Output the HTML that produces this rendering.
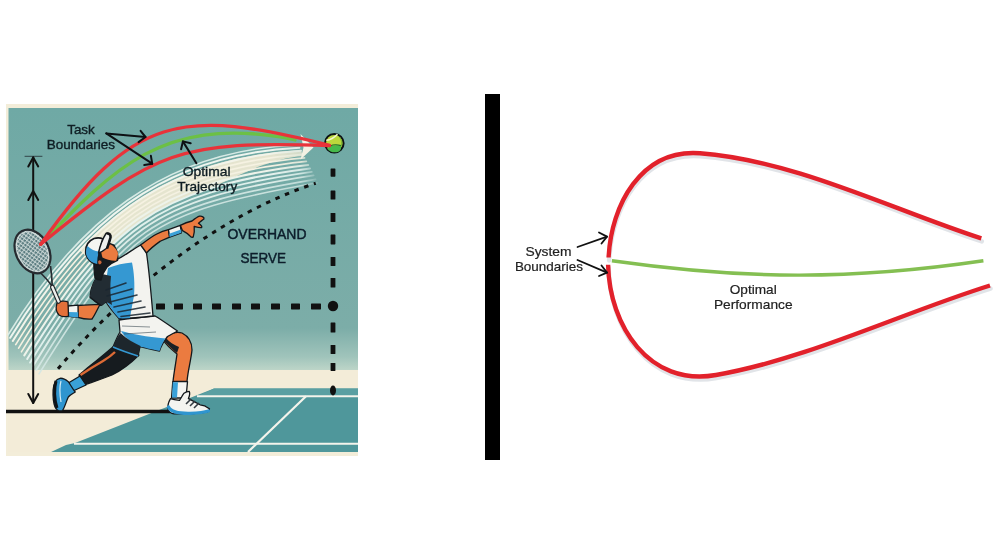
<!DOCTYPE html>
<html><head><meta charset="utf-8"><title>Task vs System Boundaries</title>
<style>
html,body{margin:0;padding:0;background:#fff;width:1000px;height:560px;overflow:hidden}
svg{display:block;will-change:transform}
text{font-family:"Liberation Sans",sans-serif}
</style></head>
<body>
<svg width="1000" height="560" viewBox="0 0 1000 560">
<defs>
<linearGradient id="sky" x1="0" y1="0" x2="0" y2="1">
<stop offset="0" stop-color="#6fa9a5"/>
<stop offset="0.84" stop-color="#7cada8"/>
<stop offset="0.95" stop-color="#a0c4bb"/>
<stop offset="1" stop-color="#bdd5c8"/>
</linearGradient>
<pattern id="strings" patternUnits="userSpaceOnUse" width="3.2" height="3.2" patternTransform="rotate(-27)">
<rect width="3.2" height="3.2" fill="#587a7e"/>
<path d="M0,0.6 H3.2 M0.6,0 V3.2" stroke="#d8e2e0" stroke-width="0.9"/>
</pattern>
<linearGradient id="fadeG" gradientUnits="userSpaceOnUse" x1="270" y1="0" x2="322" y2="0">
<stop offset="0" stop-color="#fff"/><stop offset="0.6" stop-color="#fff" stop-opacity="0.85"/><stop offset="1" stop-color="#fff" stop-opacity="0"/>
</linearGradient>
<mask id="fadeM" maskUnits="userSpaceOnUse" x="0" y="0" width="400" height="500"><rect x="0" y="0" width="400" height="500" fill="url(#fadeG)"/></mask>
</defs>

<!-- ================= LEFT ILLUSTRATION ================= -->
<g id="left">
<rect x="6" y="104" width="352" height="352" fill="#f3edd9"/>
<rect x="8.5" y="108" width="349.5" height="262" fill="url(#sky)"/>
<rect x="8.5" y="370" width="349.5" height="82" fill="#f3ecd8"/>
<!-- court -->
<polygon points="214,388.5 358,388.5 358,452 51,452 66,445 75,443" fill="#4f979b"/>
<polygon points="214,388.5 358,388.5 358,395 200,395" fill="#5a9fa2"/>
<g stroke="#f4f4ec" fill="none">
<path d="M197,396.3 L358,396.3" stroke-width="2"/>
<path d="M74,443.8 L358,443.8" stroke-width="2"/>
<path d="M306,396.3 L248,452" stroke-width="2.2"/>
</g>
<!-- ground line -->
<path d="M6,411.5 L170,411.5" stroke="#111" stroke-width="3.4"/>

<!-- swoosh streaks -->
<g id="swoosh" fill="none" stroke-linecap="round" mask="url(#fadeM)">
<path d="M79.1,249.8 L82.5,246.2 L86.0,242.6 L89.5,239.2 L93.0,235.7 L96.5,232.4 L100.1,229.1 L103.7,225.8 L107.4,222.7 L111.1,219.5 L114.8,216.5 L118.6,213.5 L122.4,210.6 L126.3,207.8 L130.1,205.0 L134.1,202.3 L138.1,199.6 L142.1,197.0 L146.2,194.5 L150.3,192.1 L154.4,189.7 L158.6,187.4 L162.9,185.1 L167.2,182.9 L171.6,180.8 L176.0,178.8 L180.5,176.8 L185.0,174.9 L189.6,173.0 L194.2,171.2 L198.9,169.5 L203.7,167.9 L208.5,166.3 L213.4,164.8 L218.3,163.4 L223.3,162.0 L228.4,160.7 L233.5,159.4 L238.7,158.3 L244.0,157.2 L249.3,156.2 L254.7,155.2 L260.2,154.3 L265.8,153.5 L271.4,152.7 L277.1,152.1 L282.8,151.5 L288.7,150.9 L294.6,150.5 L300.6,150.1 L303.6,155.9 L297.4,156.6 L291.4,157.5 L285.5,158.6 L279.8,159.9 L274.1,161.5 L268.6,163.2 L263.1,165.1 L257.7,167.1 L252.4,169.3 L247.2,171.5 L242.1,173.8 L237.0,176.1 L232.0,178.3 L227.1,180.6 L222.2,182.8 L217.4,184.9 L212.7,187.0 L208.1,188.9 L203.5,190.6 L199.0,192.2 L194.5,193.8 L190.1,195.5 L185.8,197.2 L181.6,199.0 L177.5,200.8 L173.4,202.6 L169.4,204.6 L165.5,206.5 L161.6,208.6 L157.8,210.7 L154.1,212.9 L150.4,215.1 L146.8,217.4 L143.2,219.7 L139.7,222.2 L136.3,224.6 L132.8,227.2 L129.4,229.8 L126.1,232.5 L122.8,235.3 L119.5,238.2 L116.3,241.1 L113.0,244.1 L109.9,247.2 L106.7,250.3 L103.5,253.6 L100.4,256.9 L97.3,260.3 L94.2,263.8 Z" fill="#efe9d2" stroke="none" opacity="0.92"/>
<path d="M8.0,335.0 C76.0,224.0 162.0,150.0 298.0,145.0" stroke="#dcede8" stroke-width="1.6" opacity="0.95"/>
<path d="M10.2,337.8 C79.8,224.4 160.8,154.6 299.4,147.7" stroke="#eef5ef" stroke-width="2.0" opacity="1"/>
<path d="M12.8,341.0 C84.1,224.9 159.4,159.8 301.0,150.8" stroke="#f3f4ea" stroke-width="2.0" opacity="1"/>
<path d="M15.7,344.6 C89.0,225.4 157.9,165.6 302.8,154.4" stroke="#f6f2e2" stroke-width="1.6" opacity="1"/>
<path d="M18.6,348.2 C93.8,226.0 156.4,171.4 304.6,157.9" stroke="#f6f2e2" stroke-width="1.6" opacity="1"/>
<path d="M21.4,351.8 C98.7,226.5 154.9,177.3 306.4,161.4" stroke="#f4f1e2" stroke-width="1.6" opacity="1"/>
<path d="M24.3,355.4 C103.5,227.1 153.3,183.2 308.2,164.9" stroke="#eef3ea" stroke-width="2.0" opacity="1"/>
<path d="M27.2,359.0 C108.4,227.6 151.8,189.0 310.0,168.4" stroke="#e6f2ee" stroke-width="2.0" opacity="1"/>
<path d="M30.1,362.6 C113.3,228.1 150.3,194.8 311.8,171.9" stroke="#dff0ec" stroke-width="1.9" opacity="1"/>
<path d="M33.0,366.2 C118.1,228.7 148.7,200.7 313.6,175.4" stroke="#e2efeb" stroke-width="1.9" opacity="0.95"/>
<path d="M36.2,370.2 C123.5,229.3 147.0,207.2 315.6,179.3" stroke="#d6e9e5" stroke-width="1.7" opacity="0.9"/>
<path d="M39.0,373.8 C128.4,229.8 145.5,213.1 317.4,182.8" stroke="#d3e7e3" stroke-width="1.6" opacity="0.9"/>
</g>
<!-- arrow head of swoosh -->
<polygon points="300.5,134 313.5,147.5 300.5,159.5 303.5,147.5" fill="#f3f1e3"/>

<!-- dotted diagonal -->
<path d="M58,368.8 C122.3,292.5 218.9,214.5 315.7,183.3" fill="none" stroke="#111" stroke-width="3" stroke-dasharray="4.5 5.8"/>
<!-- dashed verticals/horizontals -->
<rect x="156" y="303.4" width="9" height="6" rx="0.6" fill="#111"/>
<rect x="174" y="303.4" width="9" height="6" rx="0.6" fill="#111"/>
<rect x="193" y="303.4" width="9" height="6" rx="0.6" fill="#111"/>
<rect x="212" y="303.4" width="9" height="6" rx="0.6" fill="#111"/>
<rect x="232" y="303.4" width="9" height="6" rx="0.6" fill="#111"/>
<rect x="251" y="303.4" width="9" height="6" rx="0.6" fill="#111"/>
<rect x="271" y="303.4" width="9" height="6" rx="0.6" fill="#111"/>
<rect x="291" y="303.4" width="9" height="6" rx="0.6" fill="#111"/>
<rect x="311" y="303.4" width="10" height="6" rx="0.6" fill="#111"/>
<rect x="330.6" y="168.5" width="4.8" height="8.2" rx="0.6" fill="#111"/>
<rect x="330.6" y="190.4" width="4.8" height="9.1" rx="0.6" fill="#111"/>
<rect x="330.6" y="213" width="4.8" height="9" rx="0.6" fill="#111"/>
<rect x="330.6" y="234.4" width="4.8" height="10.0" rx="0.6" fill="#111"/>
<rect x="330.6" y="257" width="4.8" height="9" rx="0.6" fill="#111"/>
<rect x="330.6" y="278" width="4.8" height="9.5" rx="0.6" fill="#111"/>
<rect x="330.6" y="322.4" width="4.8" height="10.2" rx="0.6" fill="#111"/>
<rect x="330.6" y="345" width="4.8" height="9" rx="0.6" fill="#111"/>
<rect x="330.6" y="363" width="4.8" height="8" rx="0.6" fill="#111"/>

<circle cx="333" cy="306" r="5.2" fill="#111"/>
<ellipse cx="333" cy="390.5" rx="3" ry="5" fill="#111"/>


<!-- vertical measuring arrow -->
<g stroke="#111" stroke-width="2" fill="none" stroke-linecap="round" stroke-linejoin="round">
<path d="M33.2,157 L33.2,403"/>
<path d="M25,156.3 L42,156.3" stroke-width="0.9" stroke="#2a3a3e"/>
<path d="M28.3,166.5 L33.2,157.5 L38.2,166.5"/>
<path d="M28.3,200 L33.2,191 L38.2,200"/>
<path d="M28.3,394 L33.2,403 L38.2,394"/>
</g>

<!-- ============ PLAYER ============ -->
<g id="player" stroke="#14181c" stroke-width="1.3" stroke-linejoin="round">
<!-- back leg -->
<path d="M114,346 C107,352 99,359 91,365 C87,368 83,372 79,375 L84,385 C92,382 102,379 112,375 C122,370 131,363 139,355 Z" fill="#161b1f"/>
<path d="M80.5,375 C88,370 96,365 103,361 C108,358 112,355 115,352" fill="none" stroke="#dc6a35" stroke-width="2.4"/>
<!-- back sock -->
<path d="M68.3,383 L80,376 L86,385 L72,391.5 Z" fill="#3aa1d8"/>
<!-- back shoe -->
<path d="M60,378.3 C56,379 53.5,384 53.1,390 C52.8,397 53.5,403 55,407 C57,410.5 60,411.5 62.5,410.5 C64.5,408 66,402 68.3,397 C71,394 74,393 75.2,392 C72,388 70,384 68.3,381.7 C65,379 62.5,378 60,378.3 Z" fill="#2f95cf"/>
<path d="M56,381 C54,388 54,400 57,408" fill="none" stroke="#0f1418" stroke-width="3"/>
<path d="M61,381 C59,388 60,396 61,402" fill="none" stroke="#cfeaf5" stroke-width="1.2"/>
<!-- front leg -->
<path d="M163,340 C168,334 176,331 182,333 C188,336 192,342 192,350 C191,360 188,370 187,381.5 L173,381.5 C174,372 176,362 177,354 C172,350 167,346 163,340 Z" fill="#eb7b40"/>
<path d="M163,340 C168,345 173,350 177,353 L179,347 C174,345 169,342 166,338 Z" fill="#1a2025" stroke="none"/>
<!-- front sock -->
<path d="M172.8,381.6 L187.5,381.6 L186,398 L171.5,398 Z" fill="#f5f5f1"/>
<path d="M172.8,382.2 L178,382.2 L177,397.4 L172,397.4 Z" fill="#3aa1d8" stroke="none"/>
<!-- front shoe -->
<path d="M170.5,398.6 C168.5,402 167.5,406 168,409.3 C169,412 171,413.7 174,413.8 C185,414 198,413.3 207.1,412 C209.5,411 210,409 209,408.4 C206,406 203,405 200,404.8 C195,402 191,400 188.4,398.6 C189.5,396 190,393 189.3,391.4 C187,391.5 185,392.5 184,393.2 C182,396 180.5,399 179.5,400.4 C176,400 173,399.5 170.5,398.6 Z" fill="#f4f4f0"/>
<path d="M168.5,407 C171,412.5 180,413.5 190,413.3 C198,413 204,412.5 208.5,411" fill="none" stroke="#2f95cf" stroke-width="3.2" stroke-linecap="round"/>
<path d="M186,404 L191,399 M190,406 L195,401 M194,408 L199,403" stroke="#333a40" stroke-width="1.6"/>
<!-- shorts -->
<path d="M119,320 C131,318 143,317 155,316 C162,320 170,326 177.5,331 C174,333 170,335 167.5,336.5 C164,341 161,346 159.5,351 C150,349 144,347.5 140,346.5 L138,356 C130,353.5 120,350 113,347 C115,342 117,337 120,332 Z" fill="#f3f3ef"/>
<path d="M121,331 C132,334 146,337 165.5,338.5 C163,342 161,346 159.5,351 C150,349 144,347.5 140,346.5 C132,343 125,338 121,331 Z" fill="#3598d2" stroke="none"/>
<path d="M113,347 C115,342 117,337 120.5,333 C127,339 134,343 140.5,346 L138,356 C130,353.5 120,350 113,347 Z" fill="#1d262c" stroke="none"/>
<path d="M113,347 C120,350 130,353.5 138,356" fill="none" stroke="#3598d2" stroke-width="1.6"/>
<path d="M122,326 L150,327 M124,334 L156,332" stroke="#2a3a44" stroke-width="0.9" opacity="0.6"/>
<!-- torso -->
<path d="M90,297 C90.5,291 92,285 95,280 C98,274 102,268 107,264 C111,261 114,260 117,259.5 C124,256 132,250 140.7,245 C143,247 145,250 146.5,253 C149,270 151,292 153,316 C142,317.5 131,318.5 119,318.5 C114,313 109,307 106,302 C104,303.5 102,305 101,305.5 C97,302.5 93,300 90,297 Z" fill="#f3f3ef"/>
<path d="M108,268 C116,265 124,263 132,262.5 C134,272 135,284 134,296 C132,306 131,312 130,318 C126,318.5 121,318.5 119,318.3 C114,313 110,307 107,302.5 C106,290 106,278 108,268 Z" fill="#3598d2" stroke="none"/>
<path d="M90,297 C90.5,291 92,285 95,280 C97,277 99,275 102,274 L111,276 C110,286 110,296 112,305 C110,303.5 108,302.5 106,302 C104,303.5 102,305 101,305.5 C97,302.5 93,300 90,297 Z" fill="#222c33" stroke="none"/>
<path d="M106,290 L126,283 M107,296 L132,289 M110,302 L137,295 M114,307 L141,301 M118,312 L145,307 M121,316.5 L150,313" stroke="#1a2630" stroke-width="1.6" opacity="0.85" stroke-linecap="round"/>
<path d="M90,297 C93,300 97,302.5 101,305.5" fill="none"/>
<!-- right arm -->
<path d="M140.7,245 C146,241 151,237 156.8,234 C160.5,232 164.5,230.5 168.5,229.6 L169.6,237.1 C166,238.5 163,240 160,241.4 C155,245 150,249 146.5,253 Z" fill="#eb7b40"/>
<path d="M168.5,229.6 L180.3,225.3 L181.4,232.8 L169.6,237.1 Z" fill="#f4f4f0"/>
<path d="M169.2,233.8 L181,229.4 L181.4,232.8 L169.6,237.1 Z" fill="#3aa1d8" stroke="none"/>
<path d="M180.3,225.3 C184,223.5 188,222 192,221 C194.5,219 197,217 199.6,216.2 C202,215.8 204.5,217.5 203.9,218.9 C202,220.5 200,221.8 198.5,223.2 C200,224.3 202.5,226 201.7,227.5 C199,227.8 196.5,227 194.2,226.4 C194.5,229.5 194.5,233.5 193.2,237.1 C191.5,237.5 190.5,236.8 190,236 C188,234 185,232 182.5,230.7 Z" fill="#eb7b40"/>
<!-- racket arm -->
<path d="M100,304.5 C97,310 95,315 92,319 C87,319.5 82,318.5 78,317.3 L77.5,305.5 C84,305 92,304.8 100,304.5 Z" fill="#eb7b40"/>
<path d="M67.7,306 L78,305.2 L78.2,317.4 L68,316.4 Z" fill="#f4f4f0"/>
<path d="M67.9,312 L78.1,312.2 L78.2,317.4 L68,316.4 Z" fill="#3aa1d8" stroke="none"/>
<path d="M57,303 C60,301 65,300.5 68,302 L68.5,316 C65,317 61,316.5 59,315 C56.5,312.5 55.5,308 57,303 Z" fill="#e2703a"/>
<!-- hair / neck shadow -->
<path d="M94,256 C94,248 100,242 106,242 L114,245 C117,250 118.5,256 117.5,260.5 C114,262 110,264 107,267 C104,271 102,275 101,280 C98,280 96,279 95,278 C94,271 93.5,263 94,256 Z" fill="#161b1f"/>
<!-- face -->
<path d="M101,247 C104,244 109,243.5 112.5,245.5 C115,247.5 117,250.5 118,253 C117.8,256 117,258.5 116,260.8 C111,261 106,259.5 102.5,257.5 C101.3,254 100.8,250.5 101,247 Z" fill="#eb7b40" stroke="none"/>
<circle cx="99.6" cy="262.3" r="2.4" fill="#c8653a" stroke-width="0.8"/>
<!-- cap -->
<path d="M86,254.5 C85,247 88,241 94,238.5 C98,237.5 101,238 103,239 L99,253 C97.5,257 97,261 97.5,264.5 C92,263.5 88,260 86,254.5 Z" fill="#f4f5f1" stroke-width="1.8"/>
<path d="M86.2,254.5 C85.7,251 86.2,248 87.5,246 C91,249.5 95,251 98.8,251.5 C97.6,256 97,260 97.3,264 C92,263 88,260 86.2,254.5 Z" fill="#3598d2" stroke="none"/>
<path d="M98.5,253 C100,246 102.5,239 106,233.5 C108.5,232.5 111,234 110.5,237 C109.5,241 108.5,245 107,248 C104.5,250 101.5,252 98.5,253 Z" fill="#eef0ee" stroke-width="1.4"/>
<path d="M106.5,233.6 C109,233 111,234.5 110.5,237.5 C109.5,241 108.5,245 107,248.5" fill="none" stroke-width="2.6"/>
</g>

<!-- racket -->
<g stroke="#262b30" fill="none">
<path d="M37.5,270 C44,276 49,281 52.3,287 M50.5,266 C51.5,273 52,280 52.3,287" stroke-width="1.7"/>
<path d="M52.3,287 L58.6,301.5" stroke="#1f2428" stroke-width="4.6" stroke-linecap="round"/>
<path d="M52.3,287 L58.6,301.5" stroke="#eef0ec" stroke-width="2.4" stroke-linecap="round"/>
<ellipse cx="32.5" cy="251.5" rx="16.5" ry="23" transform="rotate(-27 32.5 251.5)" fill="url(#strings)" stroke-width="2.1"/>
<ellipse cx="32.5" cy="251.5" rx="14.5" ry="21" transform="rotate(-27 32.5 251.5)" fill="none" stroke="#d9e0de" stroke-width="0.9"/>
</g>


<!-- ball -->
<circle cx="334.3" cy="143.2" r="9.3" fill="#bcd83c" stroke="#0d1114" stroke-width="2"/>
<path d="M327,148.5 C330,145.5 335,145 340.5,145.5 C341.8,147.5 341,150 339,151.5 C335,153.2 330,152.5 327,148.5 Z" fill="#46b94b"/>
<path d="M330,146 C333,144.6 337,144.4 341,145.6" stroke="#1d6a2c" stroke-width="1.1" fill="none"/>
<path d="M326.3,140.2 C330,140 334,138 337.5,134.3" stroke="#f2f6cc" stroke-width="1.6" fill="none"/>
<path d="M339.5,137 C341.8,140 342.5,143.5 341.2,146" stroke="#6fae35" stroke-width="1" fill="none"/>
<!-- trajectories -->
<g fill="none" stroke-linecap="round">
<path d="M40.7,244.3 C116,165.7 163,119 280,136.8 C285,137.6 290,138.6 295,140" stroke="#6cc045" stroke-width="3.3"/>
<path d="M40.7,244.3 C132.8,114.5 180.5,107.7 329.5,145.3" stroke="#e8333a" stroke-width="3.3"/>
<path d="M40.7,244.3 C156.6,149.4 179.1,140.8 329.5,145.6" stroke="#e8333a" stroke-width="3.3"/>
</g>
<!-- labels left -->
<g font-size="13" fill="#0f1e24" text-anchor="middle" stroke="#0f1e24" stroke-width="0.35">
<text x="81" y="133.6" textLength="27.6" lengthAdjust="spacingAndGlyphs">Task</text>
<text x="80.8" y="149.3" textLength="68.2" lengthAdjust="spacingAndGlyphs">Boundaries</text>
<text x="206.6" y="175.6" textLength="47.8" lengthAdjust="spacingAndGlyphs">Optimal</text>
<text x="207.2" y="190.8" textLength="60" lengthAdjust="spacingAndGlyphs">Trajectory</text>
</g>
<g font-size="14" fill="#0c1d2b" stroke="#0c1d2b" stroke-width="0.45" text-anchor="middle">
<text x="267" y="239.2" textLength="79" lengthAdjust="spacingAndGlyphs">OVERHAND</text>
<text x="263.25" y="263" font-size="14.4" textLength="45.5" lengthAdjust="spacingAndGlyphs">SERVE</text>
</g>
<g stroke="#0d1114" stroke-width="2" fill="none" stroke-linecap="round" stroke-linejoin="round">
<path d="M106.3,133.4 L145.5,137"/>
<path d="M140.6,130.9 L145.5,137 L138.6,142.1"/>
<path d="M106.3,133.4 L152.2,163.7"/>
<path d="M144.3,165 L152.2,163.7 L150.9,155.8"/>
<path d="M196.4,163.2 L182.9,141.4"/>
<path d="M181.1,149.3 L182.9,141.4 L190.7,143.2"/>
</g>

</g>

<!-- ================= RIGHT DIAGRAM ================= -->
<g id="right">
<rect x="485" y="94" width="15" height="366" fill="#000"/>
<!-- shadows -->
<g fill="none" stroke="#c3cad2" stroke-width="4.5" stroke-linecap="round" opacity="0.5">
<path d="M608.6,257.5 C611,205.5 640.9,148.6 700,153.2 C795.1,160.5 890.7,209 981.3,238.4" transform="translate(0.5,3)"/>
<path d="M608.1,264.7 C609.3,325.4 649,386.9 716,375 C808.7,358.6 900.1,313.6 990,285.5" transform="translate(0.5,3)"/>
</g>
<g fill="none" stroke="#e2212b" stroke-width="4.4" stroke-linecap="butt">
<path d="M608.6,257.5 C611,205.5 640.9,148.6 700,153.2 C795.1,160.5 890.7,209 981.3,238.4"/>
<path d="M608.1,264.7 C609.3,325.4 649,386.9 716,375 C808.7,358.6 900.1,313.6 990,285.5"/>
</g>
<path d="M611.9,260.7 C744.8,279.5 850.5,280.4 983.4,260.8" fill="none" stroke="#84bf52" stroke-width="3.4"/>
<!-- arrows -->
<g fill="none" stroke="#111" stroke-width="1.8" stroke-linecap="round" stroke-linejoin="round">
<path d="M577.5,247 L607,236.6"/>
<path d="M599,232.5 L607,236.6 L601.5,243.5"/>
<path d="M577.5,260 L607,272.6"/>
<path d="M601.5,265.5 L607,272.6 L599,276"/>
</g>
<g font-size="13" fill="#222" stroke="#222" stroke-width="0.2" text-anchor="middle">
<text x="548.5" y="256" textLength="46" lengthAdjust="spacingAndGlyphs">System</text>
<text x="548.95" y="271.4" textLength="68.1" lengthAdjust="spacingAndGlyphs">Boundaries</text>
<text x="753.2" y="294.3" textLength="47" lengthAdjust="spacingAndGlyphs">Optimal</text>
<text x="753.25" y="309.4" textLength="78.6" lengthAdjust="spacingAndGlyphs">Performance</text>
</g>
</g>
</svg>
</body></html>
